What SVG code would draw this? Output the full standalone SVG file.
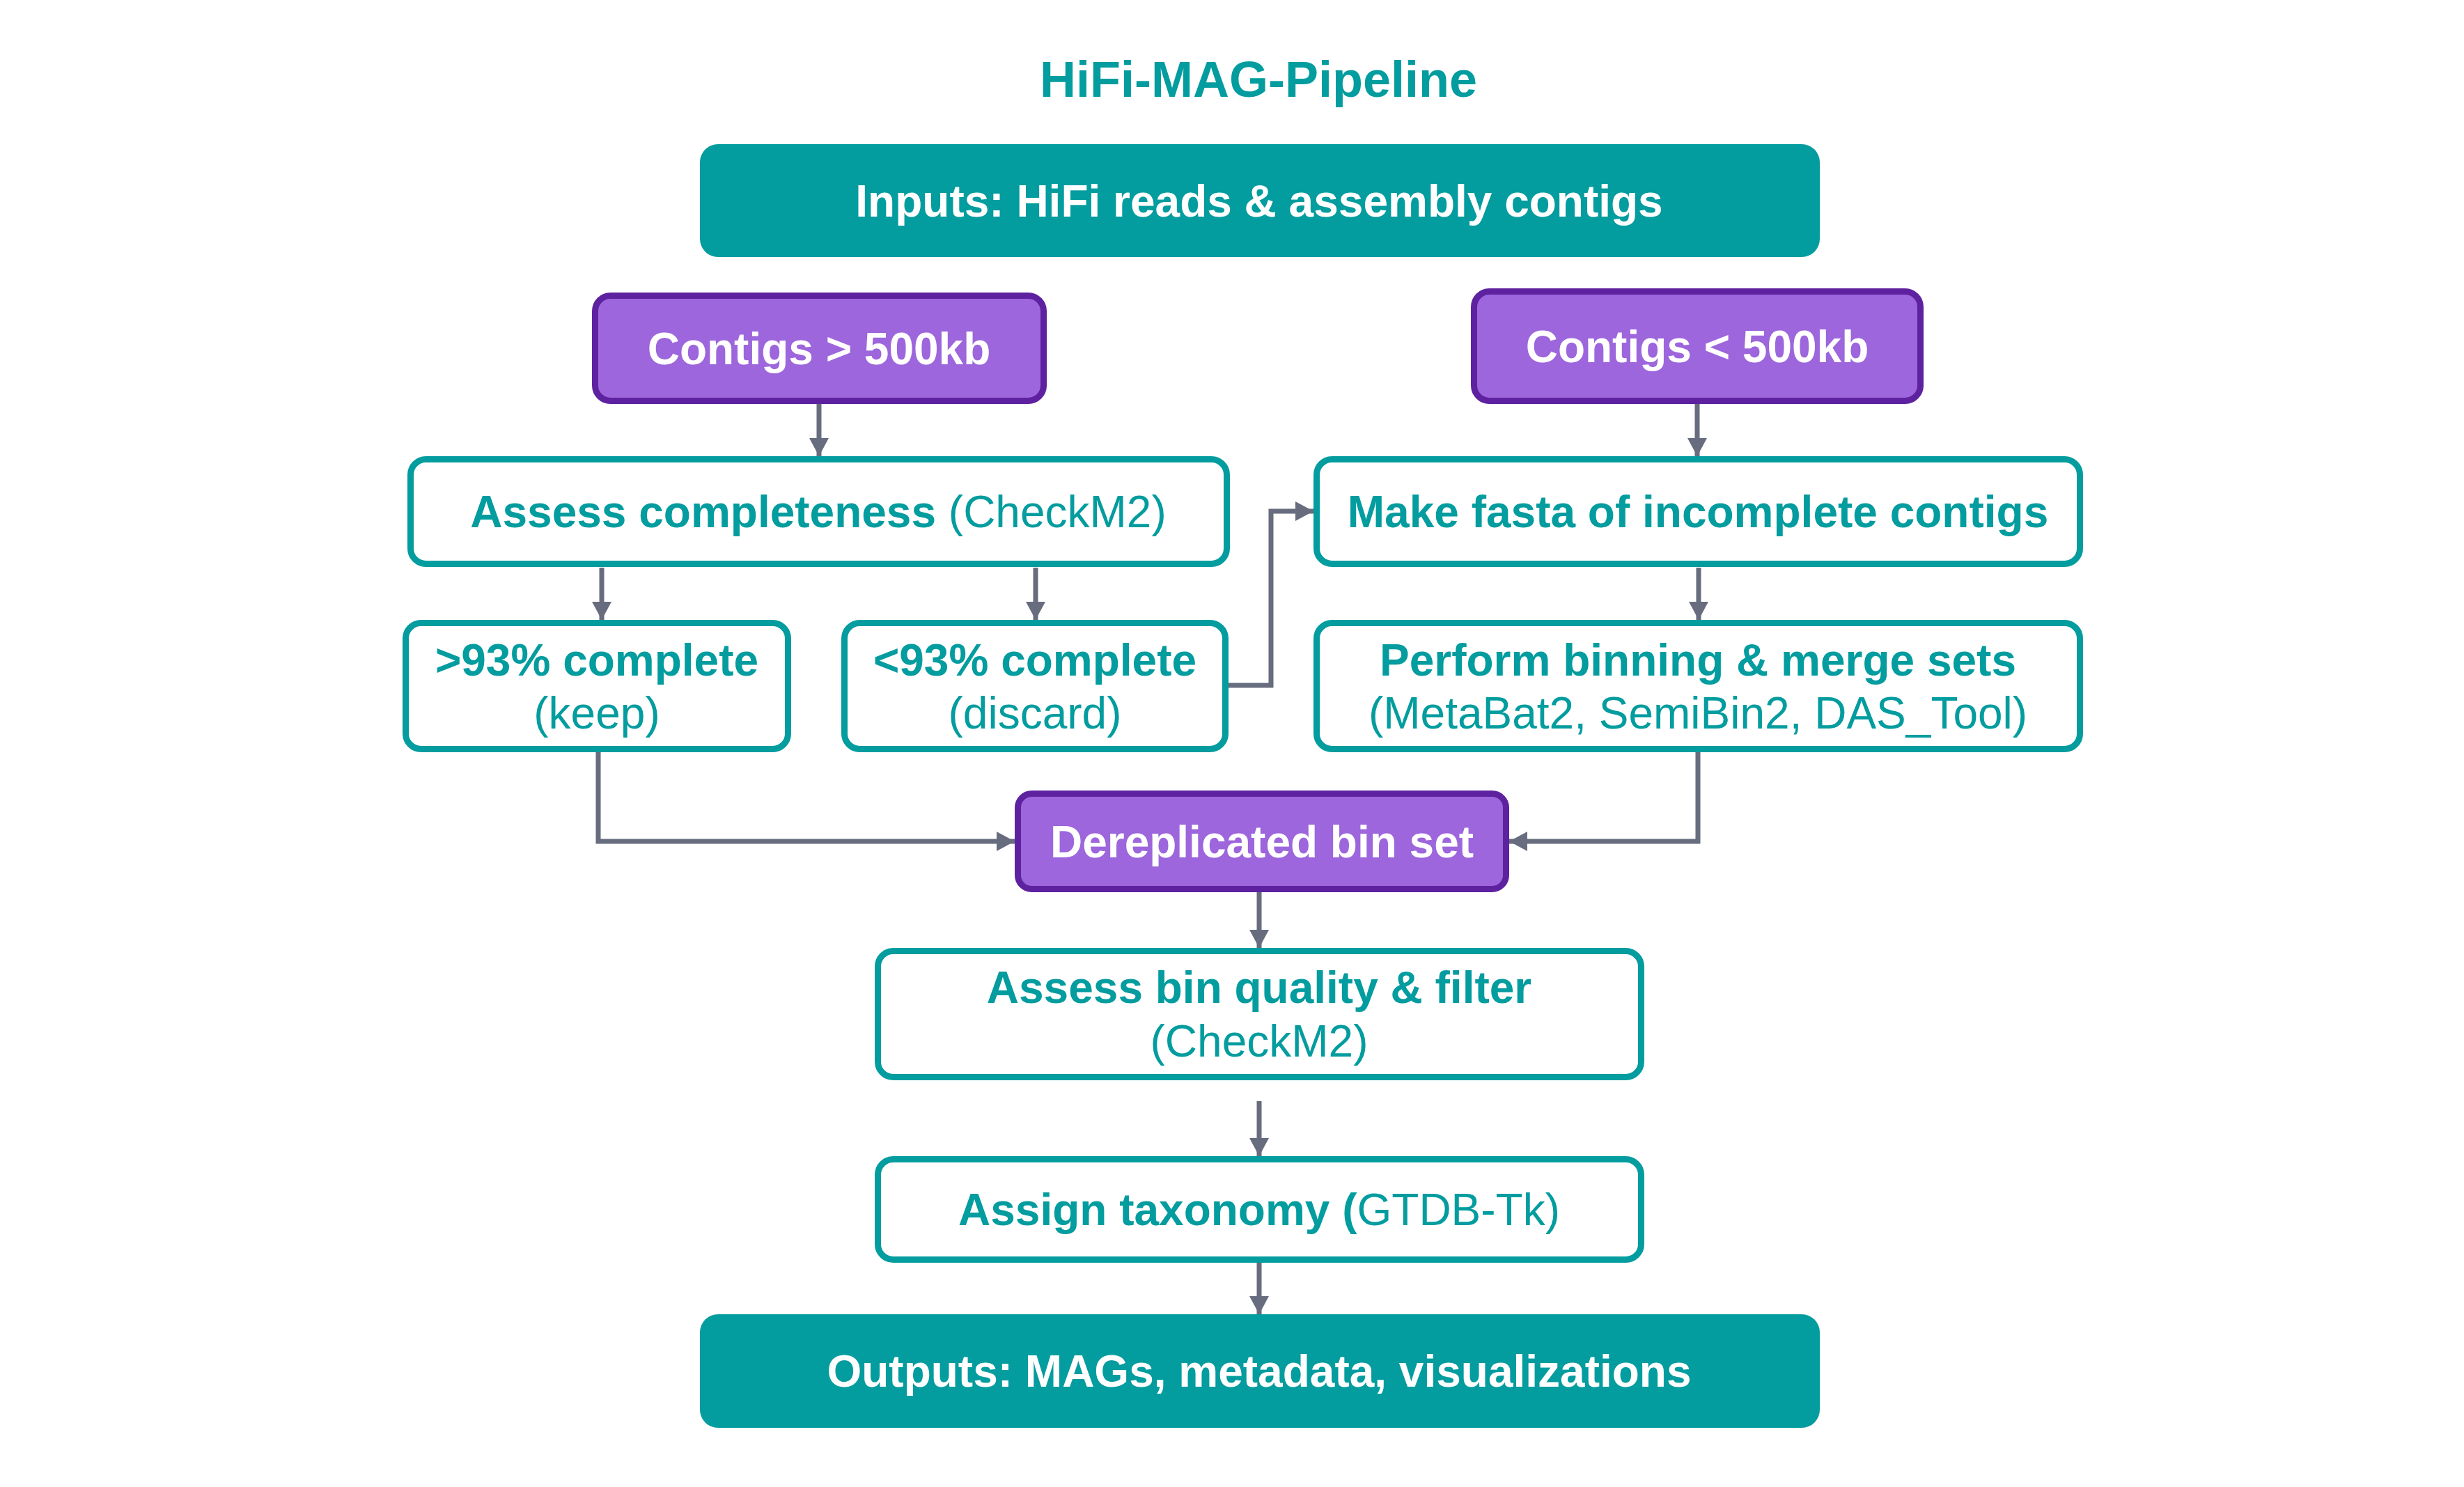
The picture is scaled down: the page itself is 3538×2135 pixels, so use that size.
<svg xmlns="http://www.w3.org/2000/svg" width="3538" height="2135" viewBox="0 0 3538 2135">
<defs>
<style>
.t{font-family:"Liberation Sans",Arial,sans-serif;font-size:64px;text-anchor:middle}
.b{font-weight:bold}
.r{font-weight:normal}
.w{fill:#ffffff}
.tc{fill:#039C9F}
.solid{fill:#039C9F;stroke:none}
.purple{fill:#9D66DC;stroke:#5E22A0;stroke-width:9}
.white{fill:#ffffff;stroke:#039C9F;stroke-width:9}
.c{fill:none;stroke:#676C7E;stroke-width:7;stroke-linejoin:miter}
</style>
<marker id="ah" markerUnits="userSpaceOnUse" markerWidth="28" markerHeight="28" refX="26" refY="14" orient="auto">
<path d="M0,0 L26,14 L0,28 z" fill="#676C7E"/>
</marker>
</defs>
<rect width="3538" height="2135" fill="#ffffff"/>
<text x="1807" y="139" class="t b tc" style="font-size:72px">HiFi-MAG-Pipeline</text>

<g id="connectors">
<path class="c" d="M1176,575 V655" marker-end="url(#ah)"/>
<path class="c" d="M2437,575 V655" marker-end="url(#ah)"/>
<path class="c" d="M864,815 V890" marker-end="url(#ah)"/>
<path class="c" d="M1487,815 V890" marker-end="url(#ah)"/>
<path class="c" d="M1764,984 H1825 V734 H1886" marker-end="url(#ah)"/>
<path class="c" d="M2439,815 V890" marker-end="url(#ah)"/>
<path class="c" d="M859,1080 V1208 H1457" marker-end="url(#ah)"/>
<path class="c" d="M2438,1080 V1208 H2167" marker-end="url(#ah)"/>
<path class="c" d="M1808,1281 V1361" marker-end="url(#ah)"/>
<path class="c" d="M1808,1581 V1660" marker-end="url(#ah)"/>
<path class="c" d="M1808,1813 V1887" marker-end="url(#ah)"/>
</g>

<g id="inputs">
<rect class="solid" x="1005" y="207" width="1608" height="162" rx="26"/>
<text x="1808" y="311" class="t b w">Inputs: HiFi reads &amp; assembly contigs</text>
</g>

<g id="contigs_gt">
<rect class="purple" x="854.5" y="424.5" width="644" height="151" rx="22"/>
<text x="1176" y="523" class="t b w">Contigs &gt; 500kb</text>
</g>

<g id="contigs_lt">
<rect class="purple" x="2116.5" y="418.5" width="641" height="157" rx="22"/>
<text x="2437" y="520" class="t b w">Contigs &lt; 500kb</text>
</g>

<g id="assess_completeness">
<rect class="white" x="589.5" y="659.5" width="1172" height="150" rx="22"/>
<text x="1175" y="757" class="t tc"><tspan class="b">Assess completeness </tspan><tspan class="r">(CheckM2)</tspan></text>
</g>

<g id="make_fasta">
<rect class="white" x="1890.5" y="659.5" width="1096" height="150" rx="22"/>
<text x="2438" y="757" class="t b tc">Make fasta of incomplete contigs</text>
</g>

<g id="gt93">
<rect class="white" x="582.5" y="894.5" width="549" height="181" rx="22"/>
<text x="857" y="970" class="t b tc">&gt;93% complete</text>
<text x="857" y="1046" class="t r tc">(keep)</text>
</g>

<g id="lt93">
<rect class="white" x="1212.5" y="894.5" width="547" height="181" rx="22"/>
<text x="1486" y="970" class="t b tc">&lt;93% complete</text>
<text x="1486" y="1046" class="t r tc">(discard)</text>
</g>

<g id="binning">
<rect class="white" x="1890.5" y="894.5" width="1096" height="181" rx="22"/>
<text x="2438" y="970" class="t b tc">Perform binning &amp; merge sets</text>
<text x="2438" y="1046" class="t r tc">(MetaBat2, SemiBin2, DAS_Tool)</text>
</g>

<g id="dereplicated">
<rect class="purple" x="1461.5" y="1139.5" width="701" height="137" rx="20"/>
<text x="1812" y="1231" class="t b w">Dereplicated bin set</text>
</g>

<g id="bin_quality">
<rect class="white" x="1260.5" y="1365.5" width="1096" height="181" rx="22"/>
<text x="1808" y="1440" class="t b tc">Assess bin quality &amp; filter</text>
<text x="1808" y="1517" class="t r tc">(CheckM2)</text>
</g>

<g id="taxonomy">
<rect class="white" x="1260.5" y="1664.5" width="1096" height="144" rx="22"/>
<text x="1808" y="1759" class="t tc"><tspan class="b">Assign taxonomy (</tspan><tspan class="r">GTDB-Tk)</tspan></text>
</g>

<g id="outputs">
<rect class="solid" x="1005" y="1887" width="1608" height="163" rx="26"/>
<text x="1808" y="1991" class="t b w">Outputs: MAGs, metadata, visualizations</text>
</g>
</svg>
